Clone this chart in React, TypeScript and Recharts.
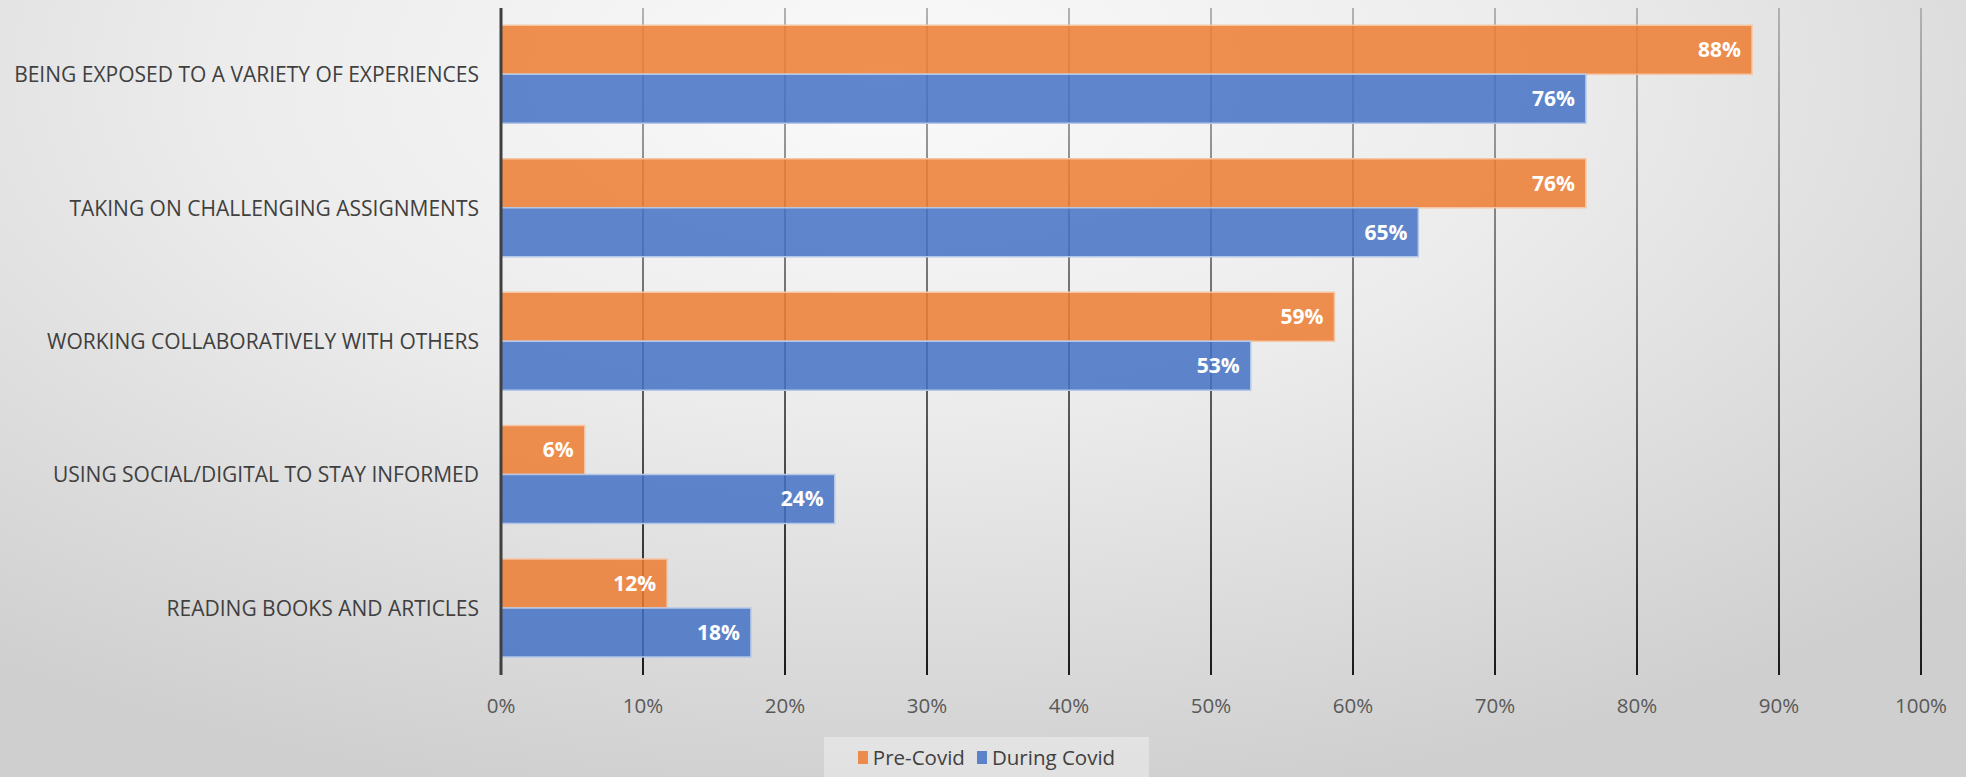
import { BarChart, Bar, XAxis, YAxis, CartesianGrid, Legend, LabelList } from "recharts";

const CATEGORIES = [
  "BEING EXPOSED TO A VARIETY OF EXPERIENCES",
  "TAKING ON CHALLENGING ASSIGNMENTS",
  "WORKING COLLABORATIVELY WITH OTHERS",
  "USING SOCIAL/DIGITAL TO STAY INFORMED",
  "READING BOOKS AND ARTICLES",
];
const PRE_COVID = [88.1, 76.4, 58.7, 5.9, 11.7];
const DURING_COVID = [76.4, 64.6, 52.8, 23.5, 17.6];
const X_TICKS = [0, 10, 20, 30, 40, 50, 60, 70, 80, 90, 100];

const ORANGE = "#ED7D31";
const BLUE = "#4472C4";
const FONT = "'Open Sans', 'Noto Sans', sans-serif";

const data = CATEGORIES.map((name, i) => ({ name, pre: PRE_COVID[i], during: DURING_COVID[i] }));

function LegendBox() {
  const items = [
    { label: "Pre-Covid", color: ORANGE },
    { label: "During Covid", color: BLUE },
  ];
  return (
    <div
      style={{
        marginLeft: 824,
        width: 325,
        height: 40,
        background: "rgba(255,255,255,0.35)",
        display: "flex",
        alignItems: "center",
        justifyContent: "center",
        gap: 12,
        fontFamily: FONT,
        fontSize: 20.5,
        color: "#404040",
      }}
    >
      {items.map((it) => (
        <span key={it.label} style={{ display: "flex", alignItems: "center", gap: 5 }}>
          <span style={{ width: 10, height: 13, background: it.color, opacity: 0.85, display: "inline-block" }} />
          {it.label}
        </span>
      ))}
    </div>
  );
}

export default function App() {
  return (
    <div
      style={{
        position: "absolute",
        left: 0,
        top: 0,
        width: 1966,
        height: 777,
        background:
          "radial-gradient(ellipse 75% 95% at 45% 10%, #fafafa 0%, #ececec 45%, #dcdcdc 75%, #cfcfcf 100%)",
      }}
    >
      <BarChart
        width={1966}
        height={777}
        data={data}
        layout="vertical"
        margin={{ top: 8, right: 45, left: 0, bottom: 0 }}
        barCategoryGap="13%"
        barGap={0}
      >
        <defs>
          <linearGradient id="gridGrad" x1="0" y1="0" x2="0" y2="680" gradientUnits="userSpaceOnUse">
            <stop offset="0%" stopColor="#b4b4b4" />
            <stop offset="100%" stopColor="#1a1a1a" />
          </linearGradient>
        </defs>
        <CartesianGrid horizontal={false} stroke="url(#gridGrad)" strokeWidth={2} />
        <XAxis
          type="number"
          domain={[0, 100]}
          ticks={X_TICKS}
          tickFormatter={(v) => `${v}%`}
          axisLine={false}
          tickLine={false}
          tickSize={0}
          tickMargin={23}
          height={62}
          tick={{ fill: "#595959", fontSize: 20.5, fontFamily: FONT }}
          interval={0}
        />
        <YAxis
          type="category"
          dataKey="name"
          width={501}
          axisLine={{ stroke: "#404040", strokeWidth: 3 }}
          tickLine={false}
          tickSize={0}
          tickMargin={22}
          tick={{ fill: "#404040", fontSize: 21, fontFamily: FONT }}
          interval={0}
        />
        <Legend verticalAlign="bottom" height={40} content={() => <LegendBox />} />
        <Bar
          dataKey="pre"
          name="Pre-Covid"
          fill={ORANGE}
          fillOpacity={0.85}
          stroke="#f6c6a4"
          strokeWidth={1.5}
          isAnimationActive={false}
        >
          <LabelList
            dataKey="pre"
            position="insideRight"
            offset={11}
            formatter={(v: any) => `${Math.round(Number(v))}%`}
            style={{ fill: "#ffffff", fontSize: 21, fontWeight: 700, fontFamily: FONT }}
          />
        </Bar>
        <Bar
          dataKey="during"
          name="During Covid"
          fill={BLUE}
          fillOpacity={0.85}
          stroke="#b4c7e7"
          strokeWidth={1.5}
          isAnimationActive={false}
        >
          <LabelList
            dataKey="during"
            position="insideRight"
            offset={11}
            formatter={(v: any) => `${Math.round(Number(v))}%`}
            style={{ fill: "#ffffff", fontSize: 21, fontWeight: 700, fontFamily: FONT }}
          />
        </Bar>
      </BarChart>
    </div>
  );
}
